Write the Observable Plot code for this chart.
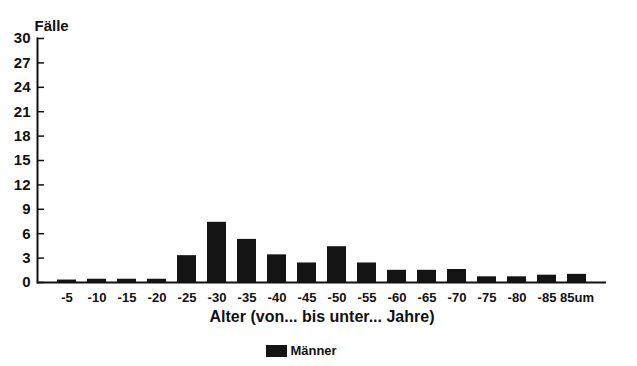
<!DOCTYPE html>
<html>
<head>
<meta charset="utf-8">
<script src="https://cdn.jsdelivr.net/npm/d3@7"></script>
<script src="https://cdn.jsdelivr.net/npm/@observablehq/plot@0.6"></script>
<style>
  body { margin: 0; background: #fff; font-family: "Liberation Sans", Arial, sans-serif; }
  #chart svg { display: block; }
  .legend { display: flex; align-items: center; justify-content: center; height: 31px; margin-left: -34px; font: bold 13px "Liberation Sans", Arial, sans-serif; color: #111; }
  .legend .sw { width: 21px; height: 12px; background: #141414; margin-right: 3px; }
</style>
</head>
<body>
<div id="chart"></div>
<script>
const categories = ["-5","-10","-15","-20","-25","-30","-35","-40","-45","-50","-55","-60","-65","-70","-75","-80","-85","85um"];
const maenner = [0.3, 0.4, 0.4, 0.4, 3.3, 7.4, 5.3, 3.4, 2.4, 4.4, 2.4, 1.5, 1.5, 1.6, 0.7, 0.7, 0.9, 1.0];
const yTicks = [0, 3, 6, 9, 12, 15, 18, 21, 24, 27, 30];
const seriesName = "Männer";

const data = categories.map((c, i) => ({alter: c, faelle: maenner[i]}));

const chart = Plot.plot({
  width: 637,
  height: 335,
  marginLeft: 37,
  marginRight: 31,
  marginTop: 38,
  marginBottom: 53,
  style: {fontFamily: "'Liberation Sans', Arial, sans-serif", fontWeight: "bold", color: "#111", background: "#fff"},
  x: {domain: categories, padding: 0.36, label: null},
  y: {domain: [0, 30], label: null},
  marks: [
    Plot.barY(data, {x: "alter", y: "faelle", fill: "#141414"}),
    Plot.ruleY([0], {stroke: "#111", strokeWidth: 2}),
    Plot.frame({anchor: "left", stroke: "#111", strokeWidth: 2}),
    Plot.axisY({ticks: yTicks, tickSize: -7, tickPadding: 14, fontSize: 15, strokeWidth: 1.5, label: null}),
    Plot.axisX({tickSize: 0, tickPadding: 10, fontSize: 13, label: null}),
    Plot.text(["Fälle"], {frameAnchor: "top-left", dy: -18, dx: -3, textAnchor: "start", fontSize: 15, fontWeight: "bold"}),
    Plot.text(["Alter (von... bis unter... Jahre)"], {frameAnchor: "bottom", dy: 39, fontSize: 16, fontWeight: "bold"})
  ]
});
document.getElementById("chart").appendChild(chart);

const leg = document.createElement("div");
leg.className = "legend";
leg.innerHTML = `<span class="sw"></span><span>${seriesName}</span>`;
document.body.appendChild(leg);
</script>
</body>
</html>
